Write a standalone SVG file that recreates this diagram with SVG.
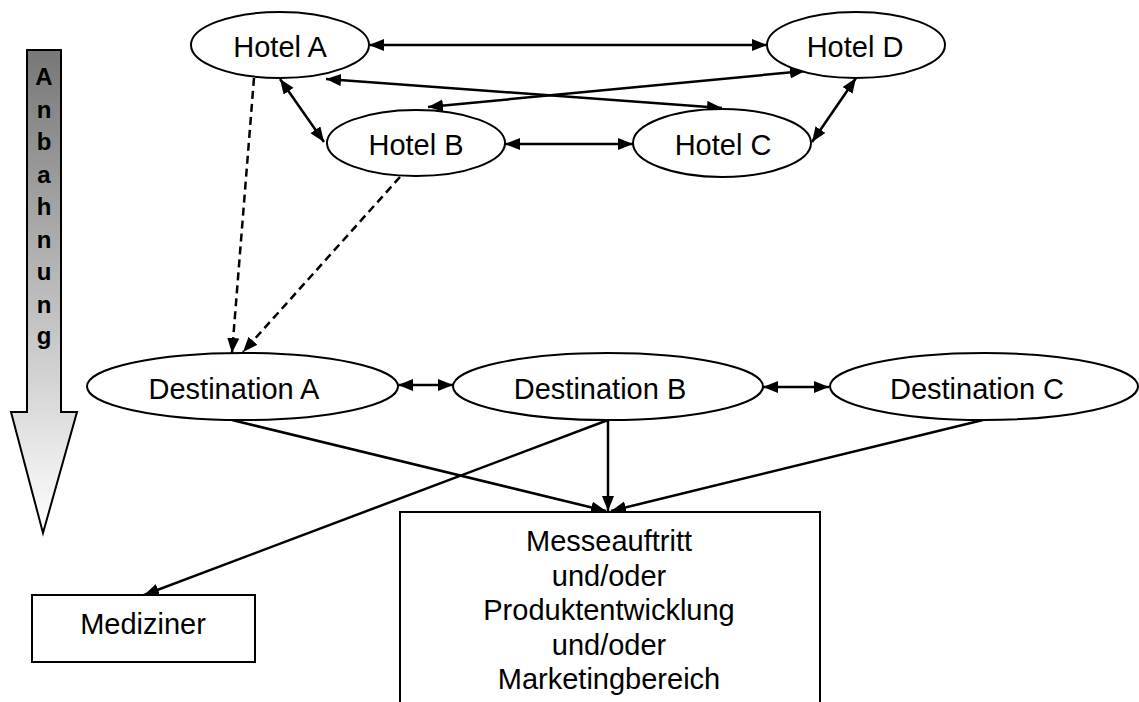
<svg xmlns="http://www.w3.org/2000/svg" width="1139" height="702" viewBox="0 0 1139 702">
<defs>
<linearGradient id="grad" gradientUnits="userSpaceOnUse" x1="0" y1="50" x2="0" y2="533">
<stop offset="0" stop-color="#777777"/>
<stop offset="1" stop-color="#ffffff"/>
</linearGradient>
<marker id="ah" markerUnits="userSpaceOnUse" markerWidth="17" markerHeight="14" refX="15" refY="6" orient="auto-start-reverse">
<path d="M0,0 L15,6 L0,12 z" fill="#000"/>
</marker>
<style>
.node{fill:#fff;stroke:#000;stroke-width:2}
.lbl{font-family:"Liberation Sans",Arial,sans-serif;font-size:29px;fill:#000;text-anchor:middle}
.bold{font-family:"Liberation Sans",Arial,sans-serif;font-size:24px;font-weight:bold;fill:#000;text-anchor:middle}
.c{stroke:#000;stroke-width:2.5;fill:none}
.both{marker-start:url(#ah);marker-end:url(#ah)}
.end{marker-end:url(#ah)}
.dash{stroke-dasharray:8,5}
</style>
</defs>
<rect width="1139" height="702" fill="#fff"/>
<g id="anbahnung">
<polygon points="27,50 61,50 61,412 77,412 43,533 11,412 27,412" fill="url(#grad)" stroke="#000" stroke-width="2"/>
<text class="bold" x="44" y="85">A</text>
<text class="bold" x="44" y="118">n</text>
<text class="bold" x="44" y="150">b</text>
<text class="bold" x="44" y="183">a</text>
<text class="bold" x="44" y="215">h</text>
<text class="bold" x="44" y="248">n</text>
<text class="bold" x="44" y="280">u</text>
<text class="bold" x="44" y="313">n</text>
<text class="bold" x="44" y="344">g</text>
</g>
<g id="connectors">
<line class="c both" x1="369" y1="45" x2="767" y2="45"/>
<line class="c both" x1="326" y1="79" x2="722" y2="108"/>
<line class="c both" x1="428" y1="107" x2="805" y2="71"/>
<line class="c both" x1="280" y1="79" x2="324" y2="142"/>
<line class="c both" x1="505" y1="144" x2="633" y2="144"/>
<line class="c both" x1="812" y1="142" x2="856" y2="78"/>
<line class="c end dash" x1="254" y1="78" x2="232" y2="353"/>
<line class="c end dash" x1="400" y1="177" x2="243" y2="352"/>
<line class="c both" x1="398" y1="385" x2="453" y2="385"/>
<line class="c both" x1="763" y1="387" x2="829" y2="387"/>
<line class="c end" x1="232" y1="420" x2="606" y2="511"/>
<line class="c end" x1="608" y1="420" x2="608" y2="511"/>
<line class="c end" x1="983" y1="420" x2="611" y2="511"/>
<line class="c end" x1="608" y1="420" x2="144" y2="595"/>
</g>
<g id="hotelA"><ellipse class="node" cx="280" cy="45" rx="89" ry="33"/><text class="lbl" x="280" y="57">Hotel A</text></g>
<g id="hotelD"><ellipse class="node" cx="856" cy="45" rx="89" ry="33"/><text class="lbl" x="855" y="57">Hotel D</text></g>
<g id="hotelB"><ellipse class="node" cx="416" cy="143" rx="89" ry="33"/><text class="lbl" x="416" y="155">Hotel B</text></g>
<g id="hotelC"><ellipse class="node" cx="722" cy="143" rx="89" ry="34"/><text class="lbl" x="723" y="155">Hotel C</text></g>
<g id="destA"><ellipse class="node" cx="242.5" cy="386.5" rx="155.5" ry="33.5"/><text class="lbl" x="234" y="399">Destination A</text></g>
<g id="destB"><ellipse class="node" cx="608" cy="386.5" rx="155" ry="33.5"/><text class="lbl" x="600" y="399">Destination B</text></g>
<g id="destC"><ellipse class="node" cx="984" cy="386.5" rx="154" ry="33.5"/><text class="lbl" x="977" y="399">Destination C</text></g>
<g id="mediziner"><rect class="node" x="32" y="595" width="223" height="67"/><text class="lbl" x="143" y="634">Mediziner</text></g>
<g id="messe"><rect class="node" x="400" y="512" width="420" height="220"/>
<text class="lbl" x="609" y="551">Messeauftritt</text>
<text class="lbl" x="609" y="585.5">und/oder</text>
<text class="lbl" x="609" y="620">Produktentwicklung</text>
<text class="lbl" x="609" y="654.5">und/oder</text>
<text class="lbl" x="609" y="689">Marketingbereich</text>
</g>
</svg>
